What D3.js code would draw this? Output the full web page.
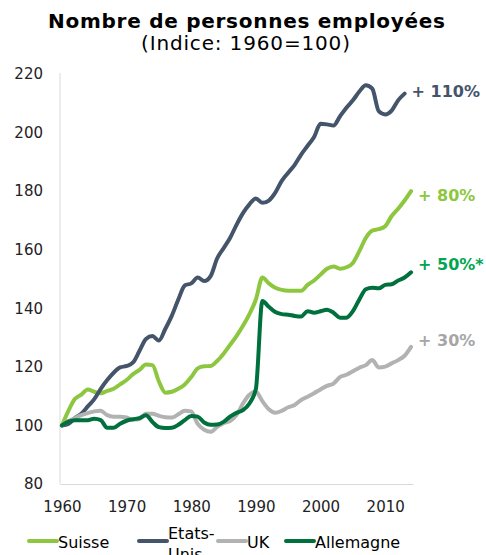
<!DOCTYPE html>
<html>
<head>
<meta charset="utf-8">
<script src="https://cdn.jsdelivr.net/npm/d3@7"></script>
<style>
  body { margin: 0; background: #fff; }
  svg { display: block; font-family: "DejaVu Sans", Verdana, sans-serif; }
</style>
</head>
<body>
<svg id="chart" width="486" height="555"></svg>
<script>
const years = d3.range(1960, 2015);

const suisse = [100, 105, 109, 110.5, 112.3, 111.5, 111, 111.8, 112.5, 114,
  115.5, 117.5, 119, 120.8, 120.6, 115, 111.2, 111.5, 112.5, 114,
  116.5, 119.5, 120.2, 120.3, 122, 124.5, 127.5, 130.5, 134, 138,
  143, 150.5, 148.5, 147, 146.3, 146, 146, 146, 148, 149.5,
  151.5, 153.5, 154.3, 153.5, 154, 155.5, 159.5, 164, 166.5, 167,
  168, 171.5, 174, 176.8, 180];

const etatsUnis = [100, 100.5, 102.5, 104, 106.5, 109, 112.5, 115.5, 118, 119.8,
  120.3, 121.5, 125.5, 129.5, 130.5, 129, 133, 137.5, 143, 147.8,
  148.5, 150.5, 149.3, 151, 157, 160.5, 164, 168.5, 172.5, 175.5,
  177.5, 176, 176.8, 179.5, 183.5, 186.3, 189, 192.5, 195.5, 198.5,
  203, 202.8, 202.4, 205.5, 208.5, 211, 214, 216.2, 215, 207.3,
  206.2, 207.5, 211, 213.3];

const uk = [100, 101.5, 102.5, 103.5, 104.2, 104.8, 105, 103.5, 103, 103,
  102.7, 102, 102.2, 104, 104, 103.3, 102.8, 102.7, 103.8, 105,
  104.8, 100.5, 98.5, 97.8, 99.5, 100.8, 101.5, 103.5, 107.5, 110.5,
  111.5, 108.3, 105.5, 104.3, 105, 106.2, 107, 108.7, 109.8, 111,
  112.3, 113.5, 114.3, 116.5, 117.3, 118.5, 119.7, 120.6, 122.3, 119.8,
  120.1, 121.2, 122.3, 123.8, 126.8];

const allemagne = [100, 101.3, 101.8, 101.8, 101.8, 102.3, 101.8, 99.2, 99.2, 100.6,
  101.6, 102.1, 102.5, 103.5, 101.2, 99.4, 99.1, 99.2, 100.2, 101.8,
  103.2, 103, 101, 100.2, 100.3, 101.2, 103, 104.3, 105.2, 107.5,
  112.5, 142.5, 140.5, 138.7, 138, 137.8, 137.4, 137.2, 139, 138.5,
  139, 139.5, 138.5, 136.8, 136.8, 139, 143, 146.5, 147, 146.8,
  148, 148.2, 149.5, 150.5, 152.3];

const seriesNames = ["Suisse", "Etats-Unis", "UK", "Allemagne"];
const endLabels = ["+ 80%", "+ 110%", "+ 30%", "+ 50%*"];
const yTicks = [80, 100, 120, 140, 160, 180, 200, 220];
const xTicks = [1960, 1970, 1980, 1990, 2000, 2010];

const colors = ["#8dc63f", "#44546a", "#b2b2b2", "#00703c"];
const labelColors = ["#8dc63f", "#44546a", "#a6a6a6", "#00a651"];
const labelNudge = [4, -2, -7, -8];

const series = [suisse, etatsUnis, uk, allemagne].map((vals, i) => ({
  name: seriesNames[i],
  label: endLabels[i],
  color: colors[i],
  labelColor: labelColors[i],
  nudge: labelNudge[i],
  values: vals.map((v, j) => ({ year: years[j], v: v }))
}));

const svg = d3.select("#chart");

const x = d3.scaleLinear().domain([1959.7, 2014.3]).range([60, 413]);
const y = d3.scaleLinear().domain([80, 220]).range([484, 74]);

// title
svg.append("text")
  .attr("x", 246.5).attr("y", 28)
  .attr("text-anchor", "middle")
  .attr("font-size", 20).attr("font-weight", "bold")
  .attr("fill", "#000")
  .attr("textLength", 397).attr("lengthAdjust", "spacing")
  .text("Nombre de personnes employées");

svg.append("text")
  .attr("x", 245.5).attr("y", 50)
  .attr("text-anchor", "middle")
  .attr("font-size", 20)
  .attr("fill", "#000")
  .attr("textLength", 209).attr("lengthAdjust", "spacing")
  .text("(Indice: 1960=100)");

// axes
const yAxis = svg.append("g")
  .attr("transform", "translate(60,0)")
  .call(d3.axisLeft(y).tickValues(yTicks).tickSize(0).tickPadding(17));
yAxis.select(".domain").attr("stroke", "#d9d9d9").attr("d", "M0,73V484");
yAxis.selectAll("text").attr("font-size", 15).attr("fill", "#222")
  .attr("font-family", "DejaVu Sans");

const xAxis = svg.append("g")
  .attr("transform", "translate(0,484)")
  .call(d3.axisBottom(x).tickValues(xTicks).tickFormat(d3.format("d")).tickSize(0).tickPadding(17));
xAxis.select(".domain").attr("stroke", "#d9d9d9");
xAxis.selectAll("text").attr("font-size", 15).attr("fill", "#222")
  .attr("font-family", "DejaVu Sans");

// lines
const line = d3.line()
  .x(d => x(d.year))
  .y(d => y(d.v))
  .curve(d3.curveMonotoneX);

svg.selectAll(".series")
  .data(series)
  .join("path")
  .attr("class", "series")
  .attr("fill", "none")
  .attr("stroke", d => d.color)
  .attr("stroke-width", 4)
  .attr("stroke-linejoin", "round")
  .attr("stroke-linecap", "round")
  .attr("d", d => line(d.values));

// end labels
svg.selectAll(".end-label")
  .data(series)
  .join("text")
  .attr("class", "end-label")
  .attr("x", d => x(d.values[d.values.length - 1].year) + 7)
  .attr("y", d => y(d.values[d.values.length - 1].v) + d.nudge)
  .attr("dy", "0.36em")
  .attr("font-size", 16)
  .attr("font-weight", "bold")
  .attr("fill", d => d.labelColor)
  .text(d => d.label);

// legend
const legendX = [29, 139, 218, 286];
const legend = svg.selectAll(".legend")
  .data(series)
  .join("g")
  .attr("class", "legend")
  .attr("transform", (d, i) => `translate(${legendX[i]},541)`);

legend.append("line")
  .attr("x1", 0).attr("x2", 28)
  .attr("stroke", d => d.color)
  .attr("stroke-width", 4)
  .attr("stroke-linecap", "round");

legend.append("text")
  .attr("x", 29)
  .attr("font-size", 16)
  .attr("fill", "#000")
  .each(function (d) {
    const t = d3.select(this);
    if (d.name === "Etats-Unis") {
      t.append("tspan").attr("x", 29).attr("y", -2).text("Etats-");
      t.append("tspan").attr("x", 29).attr("y", 19).text("Unis");
    } else {
      t.attr("y", 7).text(d.name);
    }
  });
</script>
</body>
</html>
